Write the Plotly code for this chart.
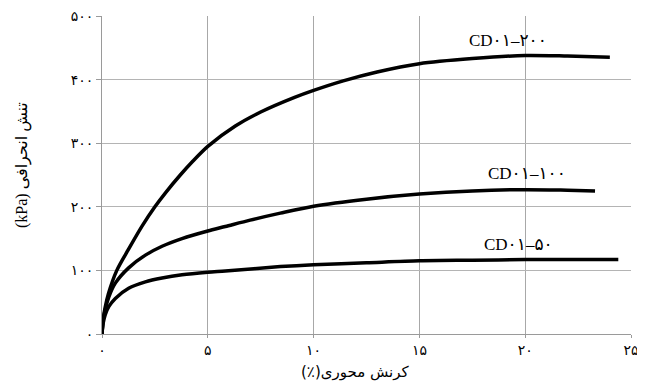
import plotly.graph_objects as go

# ---- data ----
strain_200 = [0, 0.05, 0.15, 0.3, 0.7, 1.25, 1.9, 2.5, 3.0, 3.7, 4.3, 5.0, 6.3, 7.5, 9.1, 10, 11.4, 13, 15, 17.5, 20, 22, 24.0]
stress_200 = [0, 22, 42, 63, 100, 133, 170, 200, 222, 250, 272, 295, 327, 349, 372, 383, 398, 412, 425, 433, 438, 437, 435]

strain_100 = [0, 0.05, 0.15, 0.32, 0.63, 1.26, 2.05, 2.84, 3.78, 5.0, 5.83, 7.0, 8.43, 10, 12.5, 15, 17.5, 20, 22, 23.3]
stress_100 = [0, 20, 38, 58, 80, 104, 124, 138, 150, 162, 169, 179, 190, 201, 212, 220, 225, 227, 226, 225]

strain_50 = [0, 0.05, 0.15, 0.32, 0.63, 1.26, 2.05, 2.84, 3.78, 5.0, 5.83, 8.43, 10, 12.5, 15, 17.5, 20, 22, 24.4]
stress_50 = [0, 16, 30, 43, 56, 72, 82, 88, 93, 97, 99, 106, 109, 112, 115, 116, 117, 117, 117]

series_names = ["CD۰۱–۲۰۰", "CD۰۱–۱۰۰", "CD۰۱–۵۰"]
label_x = [19.2, 20.1, 19.7]
label_y = [461, 252, 140]

x_tickvals = [0, 5, 10, 15, 20, 25]
x_ticktext = ["۰", "۵", "۱۰", "۱۵", "۲۰", "۲۵"]
y_tickvals = [0, 100, 200, 300, 400, 500]
y_ticktext = ["۰", "۱۰۰", "۲۰۰", "۳۰۰", "۴۰۰", "۵۰۰"]
x_grid = [5, 10, 15, 20]
y_grid = [100, 200, 300, 400]

x_title = "(٪)کرنش محوری"
y_title = "(kPa) تنش انحرافی"

# the page body adds an 8px margin; compensate so the picture lands where the reference is
OFF = 8
W, H = 645 - OFF, 387 - OFF
ML, MT = 102 - OFF, 16 - OFF
PW, PH = 529, 318
MR, MB = W - ML - PW, H - MT - PH

def px2paper(px, py):
    # page pixel -> paper coordinates
    return (px - OFF - ML) / PW, (MT + PH - (py - OFF)) / PH

fig = go.Figure()
for xs, ys in [(strain_200, stress_200), (strain_100, stress_100), (strain_50, stress_50)]:
    fig.add_trace(go.Scatter(x=xs, y=ys, mode="lines",
                             line=dict(color="black", width=3.5, shape="spline", smoothing=0.8),
                             showlegend=False, hoverinfo="skip"))

serif = "Liberation Serif, Times New Roman, DejaVu Sans, serif"
annotations = []
for name, lx, ly in zip(series_names, label_x, label_y):
    annotations.append(dict(x=lx, y=ly, xref="x", yref="y", text=name, showarrow=False,
                            xanchor="center", yanchor="middle",
                            font=dict(family=serif, size=17, color="black")))

ax, ay = px2paper(355, 372)
annotations.append(dict(x=ax, y=ay, xref="paper", yref="paper", text=x_title, showarrow=False,
                        xanchor="center", yanchor="middle",
                        font=dict(family="DejaVu Sans, serif", size=15, color="black")))
bx, by = px2paper(22, 165)
annotations.append(dict(x=bx, y=by, xref="paper", yref="paper", text=y_title, showarrow=False,
                        xanchor="center", yanchor="middle",
                        textangle=-90, font=dict(family=serif, size=16, color="black")))

fig.update_layout(
    width=W, height=H,
    margin=dict(l=ML, r=MR, t=MT, b=MB, autoexpand=False),
    paper_bgcolor="white", plot_bgcolor="white",
    annotations=annotations,
    xaxis=dict(range=[0, 25], tickmode="array", tickvals=x_tickvals, ticktext=x_ticktext,
               showgrid=False, zeroline=False, showline=True, linecolor="#9a9a9a", linewidth=1,
               ticks="outside", ticklen=3, tickcolor="#9a9a9a", ticklabeloverflow="allow",
               tickfont=dict(family="DejaVu Sans", size=14, color="black"),
               minor=dict(tickmode="array", tickvals=x_grid, showgrid=True,
                          gridcolor="#a8a8a8", gridwidth=1, ticks="")),
    yaxis=dict(range=[0, 500], tickmode="array", tickvals=y_tickvals, ticktext=y_ticktext,
               showgrid=False, zeroline=False, showline=True, linecolor="#9a9a9a", linewidth=1,
               ticks="outside", ticklen=5, tickcolor="#9a9a9a", ticklabeloverflow="allow",
               tickfont=dict(family="DejaVu Sans", size=14, color="black"),
               minor=dict(tickmode="array", tickvals=y_grid, showgrid=True,
                          gridcolor="#b4b4b4", gridwidth=1, ticks="")),
)

fig.write_html("out.html")
